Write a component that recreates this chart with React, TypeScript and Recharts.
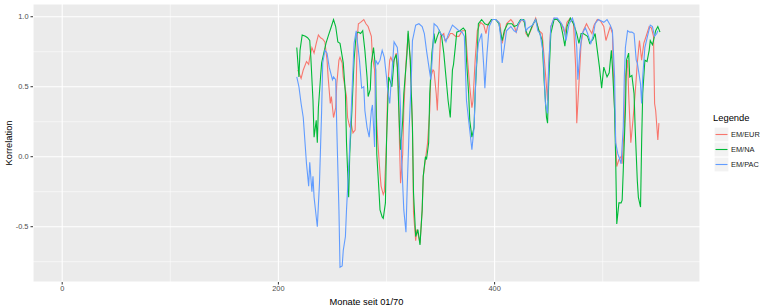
import {
  LineChart,
  Line,
  XAxis,
  YAxis,
  CartesianGrid,
  ReferenceLine,
  Legend,
  Label,
} from 'recharts';

// months since 01/70 and rolling correlation
const EUR_MONTHS = [218, 221, 223, 226, 228, 229, 231, 233, 235, 237, 239, 241, 243, 245, 246, 248, 249, 251, 253, 254,
  256, 257, 259, 260, 263, 264, 266, 267, 269, 271, 273, 274, 276, 279, 281, 283, 286, 287, 289, 290,
  292, 294, 295, 297, 298, 300, 301, 303, 304, 306, 307, 309, 311, 312, 313, 315, 316, 318, 320, 322,
  324, 325, 327, 328, 330, 331, 333, 334, 336, 338, 340, 341, 343, 344, 346, 347, 349, 350, 353, 354,
  357, 359, 361, 364, 367, 370, 373, 375, 377, 379, 380, 382, 384, 387, 390, 392, 394, 398, 401, 405,
  407, 409, 411, 415, 417, 420, 422, 425, 428, 429, 431, 435, 438, 441, 444, 447, 449, 450, 452, 455,
  458, 462, 465, 467, 470, 473, 475, 476, 478, 480, 482, 485, 487, 490, 492, 495, 498, 501, 503, 505,
  507, 509, 510, 512, 513, 515, 517, 518, 520, 521, 523, 524, 526, 528, 530, 532, 534, 536, 538, 541,
  543, 545, 547, 548, 549, 551, 552];
const EUR_VALUES = [0.62, 0.56, 0.62, 0.68, 0.66, 0.71, 0.78, 0.74, 0.81, 0.87, 0.85, 0.84, 0.82, 0.69, 0.57, 0.38, 0.43, 0.28, 0.35, 0.52,
  0.69, 0.71, 0.67, 0.57, 0.43, 0.28, 0.21, 0.25, 0.17, 0.19, 0.86, 0.95, 0.96, 0.98, 0.95, 0.93, 0.86, 0.71, 0.62, 0.38,
  0.10, -0.12, -0.21, -0.27, -0.25, 0.10, 0.50, 0.69, 0.71, 0.67, 0.69, 0.74, 0.57, 0.10, -0.19, 0.02, 0.33, 0.67, 0.88, 0.69,
  0.21, -0.40, -0.60, -0.52, -0.58, -0.62, -0.38, -0.14, -0.02, 0.10, 0.33, 0.57, 0.62, 0.61, 0.45, 0.33, 0.69, 0.86, 0.88, 0.83,
  0.85, 0.88, 0.88, 0.86, 0.86, 0.90, 0.90, 0.69, 0.50, 0.35, 0.40, 0.69, 0.90, 0.96, 0.94, 0.88, 0.95, 0.98, 0.98, 0.95,
  0.81, 0.88, 0.95, 0.98, 0.96, 0.89, 0.94, 0.98, 0.96, 0.88, 0.86, 0.93, 0.99, 0.90, 0.88, 0.60, 0.40, 0.64, 0.93, 0.99,
  0.98, 0.95, 0.88, 0.96, 0.99, 0.95, 0.64, 0.24, 0.52, 0.81, 0.90, 0.95, 0.92, 0.88, 0.94, 0.98, 0.97, 0.93, 0.83, 0.88,
  0.93, 0.88, 0.57, 0.10, -0.07, -0.02, 0.00, -0.05, 0.21, 0.57, 0.69, 0.45, 0.10, 0.26, 0.45, 0.67, 0.83, 0.69, 0.81, 0.88,
  0.93, 0.92, 0.86, 0.38, 0.33, 0.12, 0.24];

const NA_MONTHS = [217, 219, 220, 222, 225, 227, 229, 230, 232, 233, 235, 236, 237, 239, 240, 242, 244, 246, 249, 251,
  253, 255, 257, 260, 262, 263, 265, 266, 268, 270, 272, 274, 276, 278, 280, 282, 283, 285, 286, 288,
  290, 291, 293, 294, 296, 297, 299, 300, 302, 303, 305, 307, 309, 310, 312, 313, 315, 316, 319, 320,
  322, 324, 325, 327, 329, 331, 333, 334, 336, 337, 339, 340, 342, 344, 345, 347, 349, 351, 353, 355,
  357, 359, 361, 362, 364, 365, 368, 371, 373, 374, 376, 377, 379, 381, 382, 384, 385, 388, 391, 394,
  397, 401, 404, 407, 409, 412, 416, 418, 421, 424, 427, 429, 431, 435, 438, 441, 444, 446, 448, 449,
  450, 452, 455, 458, 461, 463, 465, 467, 470, 473, 476, 478, 480, 482, 486, 488, 491, 493, 495, 497,
  499, 501, 504, 506, 508, 509, 511, 512, 513, 515, 517, 518, 519, 521, 522, 524, 525, 527, 529, 530,
  532, 533, 535, 536, 537, 539, 541, 543, 544, 546, 547, 549, 551, 553];
const NA_VALUES = [0.78, 0.57, 0.76, 0.87, 0.86, 0.85, 0.83, 0.71, 0.40, 0.14, 0.26, 0.10, 0.35, 0.57, 0.67, 0.74, 0.81, 0.86, 0.93, 0.98,
  0.93, 0.82, 0.81, 0.67, 0.45, 0.10, -0.29, 0.02, 0.33, 0.69, 0.88, 0.89, 0.88, 0.90, 0.76, 0.57, 0.43, 0.48, 0.67, 0.78,
  0.62, 0.02, -0.24, -0.38, -0.43, -0.44, -0.33, 0.10, 0.57, 0.55, 0.50, 0.69, 0.73, 0.64, 0.21, 0.05, 0.26, 0.45, 0.74, 0.90,
  0.69, 0.21, -0.26, -0.57, -0.52, -0.63, -0.38, -0.14, 0.00, -0.02, 0.10, 0.45, 0.74, 0.88, 0.81, 0.86, 0.90, 0.86, 0.74, 0.57,
  0.40, 0.28, 0.62, 0.66, 0.81, 0.89, 0.90, 0.92, 0.90, 0.69, 0.45, 0.26, 0.14, 0.21, 0.45, 0.75, 0.95, 0.98, 0.95, 0.94,
  0.98, 0.98, 0.95, 0.83, 0.90, 0.95, 0.95, 0.93, 0.94, 0.98, 0.98, 0.90, 0.86, 0.94, 0.98, 0.90, 0.83, 0.52, 0.28, 0.24,
  0.52, 0.88, 0.98, 0.98, 0.95, 0.88, 0.79, 0.93, 0.99, 0.95, 0.88, 0.81, 0.88, 0.88, 0.86, 0.81, 0.84, 0.88, 0.76, 0.64,
  0.49, 0.64, 0.57, 0.60, 0.76, 0.64, 0.33, -0.02, -0.48, -0.33, -0.33, -0.31, -0.10, 0.33, 0.69, 0.74, 0.57, 0.58, 0.45, 0.21,
  -0.17, -0.29, -0.36, 0.10, 0.45, 0.69, 0.68, 0.76, 0.83, 0.80, 0.83, 0.90, 0.93, 0.89];

const PAC_MONTHS = [217, 219, 221, 223, 226, 228, 229, 231, 232, 233, 236, 238, 240, 241, 243, 245, 247, 250, 251, 253,
  254, 256, 257, 259, 260, 262, 263, 266, 268, 270, 272, 275, 277, 279, 280, 282, 284, 286, 287, 289,
  290, 292, 294, 296, 298, 300, 301, 303, 304, 306, 307, 310, 311, 313, 314, 316, 318, 319, 321, 323,
  324, 327, 330, 333, 335, 337, 340, 341, 343, 344, 347, 350, 353, 355, 357, 361, 364, 367, 370, 372,
  374, 377, 379, 381, 383, 385, 388, 390, 391, 393, 395, 398, 401, 404, 406, 407, 409, 411, 415, 418,
  420, 422, 425, 428, 429, 431, 435, 438, 440, 442, 445, 447, 449, 450, 452, 455, 458, 461, 464, 466,
  469, 472, 474, 476, 477, 479, 481, 484, 486, 489, 491, 493, 496, 501, 504, 507, 509, 511, 512, 514,
  515, 517, 519, 520, 521, 523, 525, 527, 529, 531, 532, 535, 536, 537, 539, 542, 544, 546, 548, 550,
  551];
const PAC_VALUES = [0.57, 0.50, 0.38, 0.28, -0.05, -0.21, -0.04, -0.25, -0.14, -0.29, -0.50, -0.19, 0.33, 0.67, 0.76, 0.74, 0.64, 0.55, 0.57, 0.55,
  0.21, -0.38, -0.79, -0.78, -0.67, -0.57, -0.38, 0.07, 0.45, 0.81, 0.90, 0.69, 0.49, 0.50, 0.33, 0.21, 0.14, 0.33, 0.37, 0.07,
  0.69, 0.66, 0.69, 0.76, 0.71, 0.57, 0.48, 0.38, 0.50, 0.71, 0.82, 0.78, 0.69, 0.33, -0.02, -0.38, -0.54, -0.26, 0.21, 0.57,
  0.83, 0.94, 0.95, 0.93, 0.88, 0.76, 0.60, 0.55, 0.78, 0.95, 0.93, 0.88, 0.86, 0.82, 0.87, 0.94, 0.92, 0.90, 0.89, 0.86,
  0.40, 0.19, 0.05, 0.21, 0.64, 0.81, 0.88, 0.64, 0.49, 0.74, 0.93, 0.98, 0.98, 0.96, 0.83, 0.67, 0.78, 0.90, 0.93, 0.90,
  0.89, 0.95, 0.98, 0.97, 0.90, 0.92, 0.94, 0.98, 0.90, 0.88, 0.74, 0.38, 0.31, 0.64, 0.93, 0.99, 0.99, 0.96, 0.92, 0.83,
  0.95, 0.99, 0.94, 0.78, 0.55, 0.76, 0.88, 0.92, 0.88, 0.81, 0.86, 0.95, 0.98, 0.96, 0.98, 0.94, 0.90, 0.57, 0.10, 0.02,
  0.00, -0.05, 0.21, 0.57, 0.78, 0.90, 0.89, 0.89, 0.88, 0.69, 0.67, 0.52, 0.38, 0.57, 0.78, 0.88, 0.94, 0.93, 0.86, 0.88,
  0.90];

const X_TICKS = [0, 200, 400];
const X_MINOR = [100, 300, 500];
const Y_TICKS = [-0.5, 0, 0.5, 1];
const Y_MINOR = [-0.75, -0.25, 0.25, 0.75];

const SERIES = [
  { name: 'EM/EUR', color: '#F8766D', months: EUR_MONTHS, values: EUR_VALUES },
  { name: 'EM/NA', color: '#00BA38', months: NA_MONTHS, values: NA_VALUES },
  { name: 'EM/PAC', color: '#619CFF', months: PAC_MONTHS, values: PAC_VALUES },
];

function toRows(months: number[], values: number[]) {
  return months.map((m, i) => ({ m, v: values[i] }));
}

function LegendBox() {
  return (
    <div style={{ color: '#000' }}>
      <div style={{ fontSize: 9.4, lineHeight: '12px', marginBottom: 3, marginLeft: 1 }}>Legende</div>
      {SERIES.map((s) => (
        <div key={s.name} style={{ display: 'flex', alignItems: 'center', height: 15 }}>
          <svg width={15} height={15} style={{ marginLeft: 2, display: 'block' }}>
            <rect x={0.25} y={0.25} width={14.5} height={14.5} fill="#F2F2F2" stroke="#FFFFFF" strokeWidth={0.5} />
            <line x1={1.5} x2={13.5} y1={7.5} y2={7.5} stroke={s.color} strokeWidth={1.1} />
          </svg>
          <span style={{ fontSize: 7.4, marginLeft: 2, color: '#1a1a1a' }}>{s.name}</span>
        </div>
      ))}
    </div>
  );
}

const tickStyle = { fontSize: 7.4, fill: '#4D4D4D' };

export default function App() {
  return (
    <div
      style={{
        position: 'absolute',
        left: 0,
        top: 0,
        width: 770,
        height: 308,
        background: '#fff',
        fontFamily: '"Liberation Sans", Arial, sans-serif',
      }}
    >
      <LineChart width={770} height={308} margin={{ top: 4, right: 70, bottom: 0, left: 0 }}>
        <CartesianGrid fill="#EBEBEB" stroke="#FFFFFF" strokeWidth={1.1} />
        {X_MINOR.map((x) => (
          <ReferenceLine key={'x' + x} x={x} stroke="#FFFFFF" strokeWidth={0.55} />
        ))}
        {Y_MINOR.map((y) => (
          <ReferenceLine key={'y' + y} y={y} stroke="#FFFFFF" strokeWidth={0.55} />
        ))}
        <XAxis
          type="number"
          dataKey="m"
          domain={[-27, 590]}
          allowDataOverflow
          ticks={X_TICKS}
          height={26}
          axisLine={false}
          tickLine={{ stroke: '#333333' }}
          tickSize={2.5}
          tickMargin={1.5}
          tick={tickStyle}
        >
          <Label
            content={({ viewBox }: any) => (
              <text
                x={viewBox.x + viewBox.width / 2}
                y={viewBox.y + 23}
                textAnchor="middle"
                fontSize={9.3}
                fill="#000"
              >
                Monate seit 01/70
              </text>
            )}
          />
        </XAxis>
        <YAxis
          type="number"
          dataKey="v"
          domain={[-0.895, 1.091]}
          allowDataOverflow
          ticks={Y_TICKS}
          tickFormatter={(v: number) => v.toFixed(1)}
          width={33}
          axisLine={false}
          tickLine={{ stroke: '#333333' }}
          tickSize={2.5}
          tickMargin={2}
          tick={tickStyle}
        >
          <Label
            content={({ viewBox }: any) => {
              const cx = viewBox.x + 8.7;
              const cy = viewBox.y + viewBox.height / 2;
              return (
                <text
                  x={cx}
                  y={cy}
                  transform={`rotate(-90 ${cx} ${cy})`}
                  textAnchor="middle"
                  dominantBaseline="central"
                  fontSize={9.3}
                  fill="#000"
                >
                  Korrelation
                </text>
              );
            }}
          />
        </YAxis>
        <Legend
          layout="vertical"
          align="center"
          verticalAlign="middle"
          wrapperStyle={{ left: 712, top: 112, width: 58 }}
          content={() => <LegendBox />}
        />
        {SERIES.map((s) => (
          <Line
            key={s.name}
            name={s.name}
            data={toRows(s.months, s.values)}
            dataKey="v"
            type="linear"
            stroke={s.color}
            strokeWidth={1.1}
            dot={false}
            activeDot={false}
            isAnimationActive={false}
          />
        ))}
      </LineChart>
    </div>
  );
}
